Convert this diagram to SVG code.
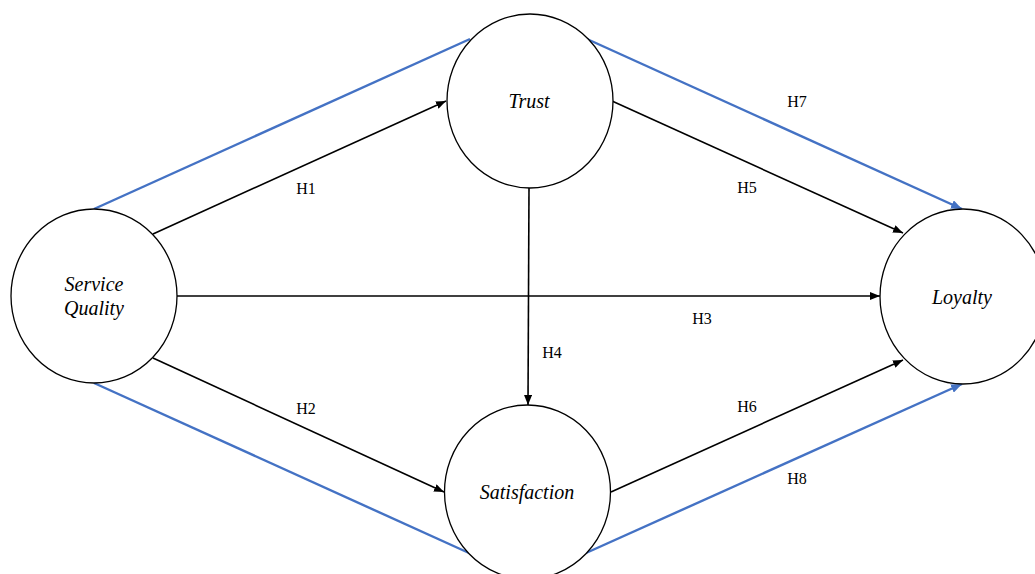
<svg xmlns="http://www.w3.org/2000/svg" width="1035" height="574" viewBox="0 0 1035 574">
<style>
.node{fill:#fff;stroke:#000;stroke-width:1.3}
.lbl{font-style:italic;font-size:20px;text-anchor:middle;fill:#000}
.h{font-size:16px;text-anchor:middle;fill:#000}
.blk{stroke:#000;stroke-width:1.6;fill:none}
.blu{stroke:#4472C4;stroke-width:2.4;fill:none}
</style>
<defs>
<marker id="ab" markerUnits="userSpaceOnUse" markerWidth="10" markerHeight="8" refX="10" refY="4" orient="auto"><path d="M0,0 L10,4 L0,8 z" fill="#000"/></marker>
<marker id="au" markerUnits="userSpaceOnUse" markerWidth="11" markerHeight="9" refX="11" refY="4.5" orient="auto"><path d="M0,0 L11,4.5 L0,9 z" fill="#4472C4"/></marker>
</defs>
<rect width="1035" height="574" fill="#fff"/>
<g id="connectors">
<line class="blu" x1="94" y1="209" x2="470" y2="39"/>
<line class="blu" x1="587" y1="39" x2="962" y2="209" marker-end="url(#au)"/>
<line class="blu" x1="94" y1="383" x2="469" y2="553"/>
<line class="blu" x1="586" y1="553" x2="962" y2="384" marker-end="url(#au)"/>
<line class="blk" x1="153" y1="234" x2="446" y2="101" marker-end="url(#ab)"/>
<line class="blk" x1="153" y1="358" x2="444" y2="492" marker-end="url(#ab)"/>
<line class="blk" x1="177" y1="296" x2="880" y2="296" marker-end="url(#ab)"/>
<line class="blk" x1="529" y1="188" x2="528" y2="405" marker-end="url(#ab)"/>
<line class="blk" x1="612" y1="101" x2="903" y2="233" marker-end="url(#ab)"/>
<line class="blk" x1="611" y1="492" x2="903" y2="360" marker-end="url(#ab)"/>
<text class="h" font-family="'Liberation Serif', 'DejaVu Serif', serif" x="306" y="194">H1</text>
<text class="h" font-family="'Liberation Serif', 'DejaVu Serif', serif" x="306" y="414">H2</text>
<text class="h" font-family="'Liberation Serif', 'DejaVu Serif', serif" x="702" y="324">H3</text>
<text class="h" font-family="'Liberation Serif', 'DejaVu Serif', serif" x="552" y="358">H4</text>
<text class="h" font-family="'Liberation Serif', 'DejaVu Serif', serif" x="747" y="193">H5</text>
<text class="h" font-family="'Liberation Serif', 'DejaVu Serif', serif" x="747" y="412">H6</text>
<text class="h" font-family="'Liberation Serif', 'DejaVu Serif', serif" x="797" y="107">H7</text>
<text class="h" font-family="'Liberation Serif', 'DejaVu Serif', serif" x="797" y="484">H8</text>
</g>
<g id="service-quality">
<ellipse class="node" cx="94" cy="296" rx="83" ry="87"/>
<text class="lbl" font-family="'Liberation Serif', 'DejaVu Serif', serif" x="94" y="291">Service</text>
<text class="lbl" font-family="'Liberation Serif', 'DejaVu Serif', serif" x="94" y="315">Quality</text>
</g>
<g id="trust">
<ellipse class="node" cx="530" cy="101" rx="83" ry="87"/>
<text class="lbl" font-family="'Liberation Serif', 'DejaVu Serif', serif" x="529" y="108">Trust</text>
</g>
<g id="satisfaction">
<ellipse class="node" cx="527.5" cy="492" rx="83" ry="87"/>
<text class="lbl" font-family="'Liberation Serif', 'DejaVu Serif', serif" x="527" y="499">Satisfaction</text>
</g>
<g id="loyalty">
<ellipse class="node" cx="963" cy="296.5" rx="83" ry="87.5"/>
<text class="lbl" font-family="'Liberation Serif', 'DejaVu Serif', serif" x="962" y="304">Loyalty</text>
</g>
</svg>
